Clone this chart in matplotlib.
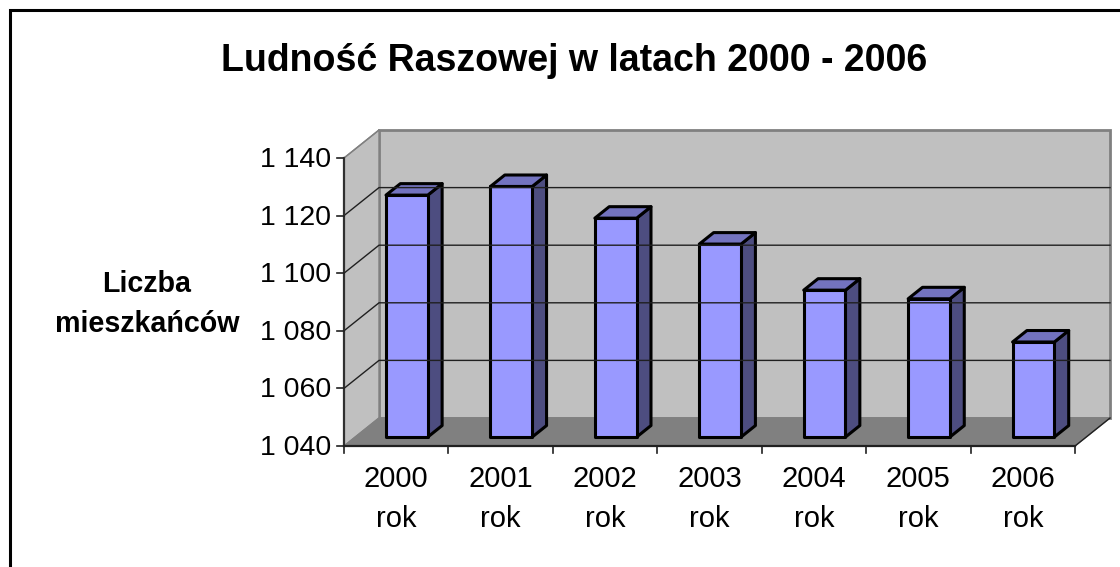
#!/usr/bin/env python3
"""3D-look column chart of the population of Raszowa, 2000-2006."""

import matplotlib
matplotlib.use("Agg")
import matplotlib.pyplot as plt
from matplotlib.patches import Polygon

plt.rcParams['font.family'] = ['Liberation Sans', 'DejaVu Sans']

years = ['2000\nrok', '2001\nrok', '2002\nrok', '2003\nrok', '2004\nrok', '2005\nrok', '2006\nrok']
population = [1124, 1127, 1116, 1107, 1091, 1088, 1073]
y_ticks = [1040, 1060, 1080, 1100, 1120, 1140]
y_tick_labels = ['1 040', '1 060', '1 080', '1 100', '1 120', '1 140']

W, H = 1120, 567
# front plane of the plot box in pixels
LEFT, RIGHT, TOP, BOTTOM = 344, 1075, 158, 446
# depth of the box in pixels
DEPTH_X, DEPTH_Y = 35, 28

fig = plt.figure(figsize=(W / 100, H / 100), dpi=100)
ax = fig.add_axes([LEFT / W, 1 - BOTTOM / H, (RIGHT - LEFT) / W, (BOTTOM - TOP) / H])
ax.set_xlim(0, len(years))
ax.set_ylim(y_ticks[0], y_ticks[-1])
ax.axis('off')

dx = DEPTH_X / ((RIGHT - LEFT) / len(years))
dy = DEPTH_Y / ((BOTTOM - TOP) / (y_ticks[-1] - y_ticks[0]))


def proj(x, v, d):
    """Category x, value v, depth d (0 front, 1 back) to axes data coords."""
    return (x + d * dx, v + d * dy)


def poly(points, **kw):
    ax.add_patch(Polygon(points, closed=True, clip_on=False, **kw))


# outer chart frame: only top and left sides are inside the picture
fig.add_artist(plt.Line2D([9.5 / W, 9.5 / W, 1], [0, 1 - 10 / H, 1 - 10 / H], transform=fig.transFigure,
                          color='black', linewidth=2.2, solid_joinstyle='miter'))

n = len(years)
y0, y1 = y_ticks[0], y_ticks[-1]
wall = '#c0c0c0'
edge = '#808080'

# back wall, side wall, floor
poly([proj(0, y0, 1), proj(n, y0, 1), proj(n, y1, 1), proj(0, y1, 1)], facecolor=wall, edgecolor=edge, linewidth=2)
poly([proj(0, y0, 0), proj(0, y0, 1), proj(0, y1, 1), proj(0, y1, 0)], facecolor=wall, edgecolor=edge, linewidth=1)
poly([proj(0, y0, 0), proj(n, y0, 0), proj(n, y0, 1), proj(0, y0, 1)], facecolor=edge, edgecolor=edge, linewidth=1)

# gridlines run along the side wall and then the back wall
for v in y_ticks[1:-1]:
    ax.plot(*zip(proj(0, v, 0), proj(0, v, 1), proj(n, v, 1)), color='#202020', linewidth=1, clip_on=False)

# axes
ax.plot([0, 0], [y0, y1], color='#303030', linewidth=1.6, clip_on=False)
ax.plot([0, n], [y0, y0], color='#202020', linewidth=1.6, clip_on=False)
ax.plot(*zip(proj(n, y0, 0), proj(n, y0, 1)), color='#202020', linewidth=1, clip_on=False)
ax.plot(*zip(proj(0, y1, 0), proj(0, y1, 1)), color='#808080', linewidth=1, clip_on=False)
for v, lab in zip(y_ticks, y_tick_labels):
    ax.plot([-0.07, 0], [v, v], color='#202020', linewidth=1.2, clip_on=False)
    ax.annotate(lab, (0, v), xytext=(-9.5, -1.5), textcoords='offset points', ha='right', va='center', fontsize=20.5,
                color='black', annotation_clip=False)
for i in range(n + 1):
    ax.plot([i, i], [y0, y0 - 2.4], color='#202020', linewidth=1.2, clip_on=False)

# columns
bar_w = 0.40
d0, d1 = 0.32, 0.73
for i, (label, v) in enumerate(zip(years, population)):
    xa = i + 0.495 - bar_w / 2
    xb = i + 0.495 + bar_w / 2
    style = dict(edgecolor='black', linewidth=2.2, joinstyle='round')
    poly([proj(xb, y0, d0), proj(xb, y0, d1), proj(xb, v, d1), proj(xb, v, d0)], facecolor='#4d4d80', **style)
    poly([proj(xa, v, d0), proj(xb, v, d0), proj(xb, v, d1), proj(xa, v, d1)], facecolor='#7373bf', **style)
    poly([proj(xa, y0, d0), proj(xb, y0, d0), proj(xb, v, d0), proj(xa, v, d0)], facecolor='#9999ff', **style)
    ax.annotate(label, (i + 0.5, y0), xytext=(0, -14), textcoords='offset points', ha='center', va='top',
                fontsize=21, linespacing=1.54, annotation_clip=False)

fig.text(574 / W, 1 - 61 / H, 'Ludność Raszowej w latach 2000 - 2006', ha='center', va='center',
         fontsize=27, fontweight='bold')
fig.text(147 / W, 1 - 304 / H, 'Liczba\nmieszkańców', ha='center', va='center', fontsize=20.6,
         fontweight='bold', linespacing=1.55)

fig.savefig('out.png', dpi=100)
